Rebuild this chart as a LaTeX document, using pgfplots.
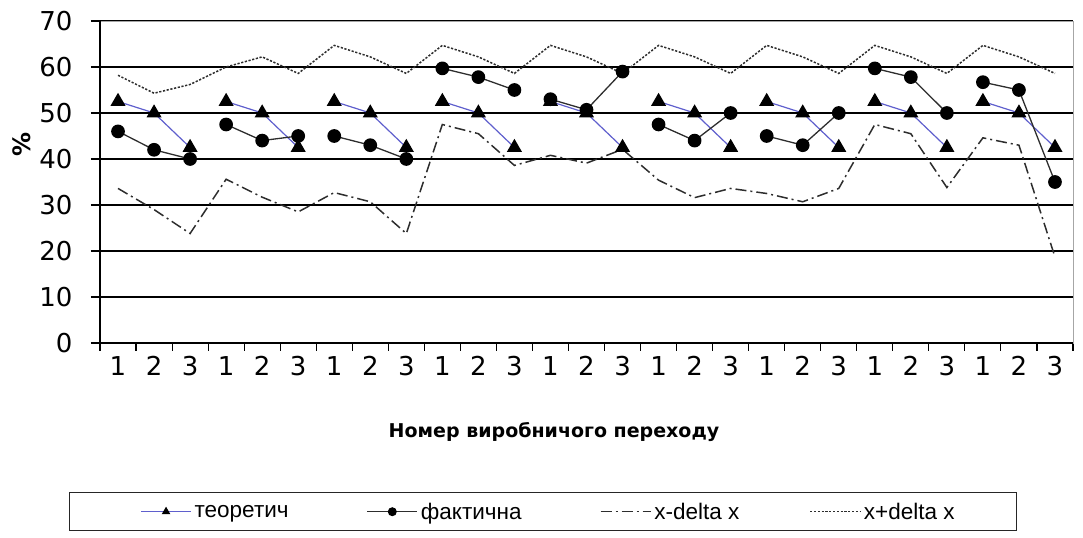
\documentclass[border=0pt]{standalone}
\usepackage{fontspec}
\setmainfont{DejaVu Sans}
\newfontfamily\legfont{Liberation Sans}
\usepackage{pgfplots}
\pgfplotsset{compat=1.18}
\usepackage{pgfplotstable}

\definecolor{theorblue}{RGB}{95,95,205}
\definecolor{factgray}{RGB}{45,45,45}
\definecolor{dgray}{RGB}{45,45,45}

\pgfplotstableread{
x y
1 52.5
2 50
3 42.5
3.5 nan
4 52.5
5 50
6 42.5
6.5 nan
7 52.5
8 50
9 42.5
9.5 nan
10 52.5
11 50
12 42.5
12.5 nan
13 52.5
14 50
15 42.5
15.5 nan
16 52.5
17 50
18 42.5
18.5 nan
19 52.5
20 50
21 42.5
21.5 nan
22 52.5
23 50
24 42.5
24.5 nan
25 52.5
26 50
27 42.5
}\theor

\pgfplotstableread{
x y
1 46
2 42
3 40
3.5 nan
4 47.5
5 44
6 45
6.5 nan
7 45
8 43
9 40
9.5 nan
10 59.7
11 57.8
12 55
12.5 nan
13 53
14 50.7
15 59
15.5 nan
16 47.5
17 44
18 50
18.5 nan
19 45
20 43
21 50
21.5 nan
22 59.7
23 57.8
24 50
24.5 nan
25 56.7
26 55
27 35
}\fact

\pgfplotstableread{
x lo hi
1 33.6 58.2
2 29.0 54.3
3 23.8 56.2
4 35.6 60.0
5 31.7 62.2
6 28.5 58.6
7 32.7 64.7
8 30.7 62.2
9 23.8 58.6
10 47.5 64.7
11 45.5 62.2
12 38.6 58.6
13 40.8 64.7
14 39.1 62.2
15 42.1 58.6
16 35.4 64.7
17 31.6 62.2
18 33.6 58.6
19 32.5 64.7
20 30.7 62.2
21 33.6 58.6
22 47.5 64.7
23 45.5 62.2
24 33.8 58.6
25 44.6 64.7
26 43.0 62.2
27 18.7 58.6
}\bounds

\begin{document}
\begin{tikzpicture}
\begin{axis}[
  name=ax,
  scale only axis, width=973bp, height=322bp,
  xmin=0.5, xmax=27.5, ymin=0, ymax=70,
  xtick={1,...,27},
  xticklabels={1,2,3,1,2,3,1,2,3,1,2,3,1,2,3,1,2,3,1,2,3,1,2,3,1,2,3},
  minor xtick={0.5,1.5,...,27.5},
  ytick={0,10,...,70},
  major x tick style={draw=none},
  tick align=outside, major tick length=9bp, minor tick length=8bp,
  xtick pos=bottom, ytick pos=left,
  ymajorgrids, major grid style={black, line width=1.2bp},
  axis line style={gray!70, line width=0.8bp},
  tick style={black, line width=1.1bp},
  ticklabel style={font=\fontsize{26bp}{30bp}\selectfont},
  yticklabel style={xshift=-15bp},
  xticklabel style={yshift=-1bp},
  /pgf/number format/assume math mode=true,
  unbounded coords=jump,
  clip=false,
  xlabel={Номер виробничого переходу},
  xlabel style={at={(rel axis cs:0.4666,-0.2764)}, anchor=center,
    font=\fontsize{19bp}{22bp}\selectfont\bfseries},
  ylabel={\%},
  ylabel style={at={(rel axis cs:-0.0802,0.615)}, anchor=center,
    font=\fontsize{24bp}{26bp}\selectfont\bfseries},
  legend columns=4,
  legend image code/.code={\draw[mark repeat=2,mark phase=2,#1] plot coordinates {(0bp,0bp) (25bp,0bp) (50bp,0bp)};},
  legend image post style={mark size=3.8bp},
  legend style={at={(rel axis cs:-0.0319,-0.524)}, anchor=west,
    draw=black!85, line width=1bp,
    font=\legfont\fontsize{22.5bp}{25bp}\selectfont,
    nodes={inner sep=3bp},
    inner xsep=71bp, inner ysep=7bp,
    /tikz/every even column/.append style={column sep=0pt},
    /tikz/every odd column/.append style={column sep=0pt}},
]
\addplot[theorblue, line width=1.2bp, mark=triangle*, mark size=7.5bp,
  mark options={solid, fill=black, draw=black}] table[x=x,y=y] {\theor};
\addplot[factgray, line width=1.3bp, mark=*, mark size=6.2bp,
  mark options={solid, fill=black, draw=black}] table[x=x,y=y] {\fact};
\addplot[dgray, line width=1.5bp, dash pattern=on 11bp off 4bp on 2bp off 4bp] table[x=x,y=lo] {\bounds};
\addplot[dgray, line width=1.5bp, dash pattern=on 2.2bp off 1.6bp] table[x=x,y=hi] {\bounds};
\legend{\makebox[169bp][l]{теоретич},\makebox[176bp][l]{фактична},\makebox[152bp][l]{x-delta x},\makebox[79bp][l]{x+delta x}}
\draw[black, line width=1.3bp] (rel axis cs:0,1) -- (rel axis cs:0,0) -- (rel axis cs:1,0);
\end{axis}
\path[use as bounding box] ([shift={(-100bp,-195bp)}]ax.south west) rectangle ([shift={(10bp,21bp)}]ax.north east);
\end{tikzpicture}
\end{document}
